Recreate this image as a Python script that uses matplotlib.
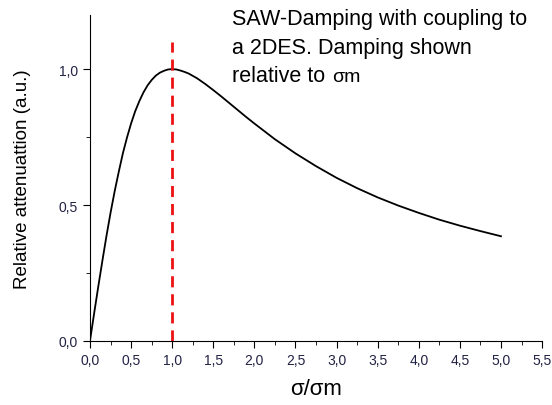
import matplotlib
matplotlib.use("Agg")
import matplotlib.pyplot as plt
from matplotlib.ticker import MultipleLocator, FuncFormatter

# curve values
ratio = [0.0, 0.05, 0.1, 0.15, 0.2, 0.25, 0.3, 0.35, 0.4, 0.45, 0.5,
         0.55, 0.6, 0.65, 0.7, 0.75, 0.8, 0.85, 0.9, 0.95, 1.0,
         1.05, 1.1, 1.15, 1.2, 1.3, 1.4, 1.5, 1.6, 1.7, 1.8, 1.9, 2.0,
         2.25, 2.5, 2.75, 3.0, 3.25, 3.5, 3.75, 4.0, 4.25, 4.5, 4.75, 5.0]
attenuation = [0.0, 0.100, 0.198, 0.293, 0.385, 0.471, 0.550, 0.622, 0.690, 0.748, 0.800,
               0.845, 0.882, 0.914, 0.940, 0.960, 0.976, 0.987, 0.994, 0.999, 1.0,
               0.999, 0.995, 0.990, 0.984, 0.967, 0.946, 0.923, 0.899, 0.874, 0.849, 0.824, 0.800,
               0.742, 0.690, 0.643, 0.600, 0.562, 0.528, 0.498, 0.471, 0.446, 0.424, 0.404, 0.385]
peak_x = 1.0
peak_line_top = 1.1
note_lines = ["SAW-Damping with coupling to", "a 2DES. Damping shown", "relative to"]

plt.rcParams["font.family"] = ["Liberation Sans", "DejaVu Sans"]

fig = plt.figure(figsize=(5.52, 4.06), dpi=100)
ax = fig.add_axes([0.163, 0.158, 0.819, 0.803])

ax.plot(ratio, attenuation, color="black", linewidth=1.3)
ax.plot([peak_x, peak_x], [0, peak_line_top], color="#ee1111", linewidth=2,
        linestyle=(0, (4, 2.5)))

ax.set_xlim(0, 5.5)
ax.set_ylim(0, 1.2)
ax.spines["top"].set_visible(False)
ax.spines["right"].set_visible(False)
ax.xaxis.set_major_locator(MultipleLocator(0.5))
ax.xaxis.set_minor_locator(MultipleLocator(0.25))
ax.yaxis.set_major_locator(MultipleLocator(0.5))
ax.yaxis.set_minor_locator(MultipleLocator(0.25))
comma = FuncFormatter(lambda v, p: f"{v:.1f}".replace(".", ","))
ax.xaxis.set_major_formatter(comma)
ax.yaxis.set_major_formatter(comma)
ax.tick_params(which="major", length=5, labelsize=10, labelcolor="#222244")
ax.tick_params(which="minor", length=3)

ax.set_ylabel("Relative attenuattion (a.u.)", fontsize=13.5, labelpad=20)
ax.set_xlabel("σ/σm", fontsize=16, labelpad=8)

# annotation, one line at a time
for i, line in enumerate(note_lines):
    fig.text(0.42, 0.938 - i * 0.070, line, fontsize=15.5, va="baseline", ha="left")
fig.text(0.601, 0.798, "σm", fontsize=14, va="baseline", ha="left")

fig.savefig("out.png", dpi=100)
